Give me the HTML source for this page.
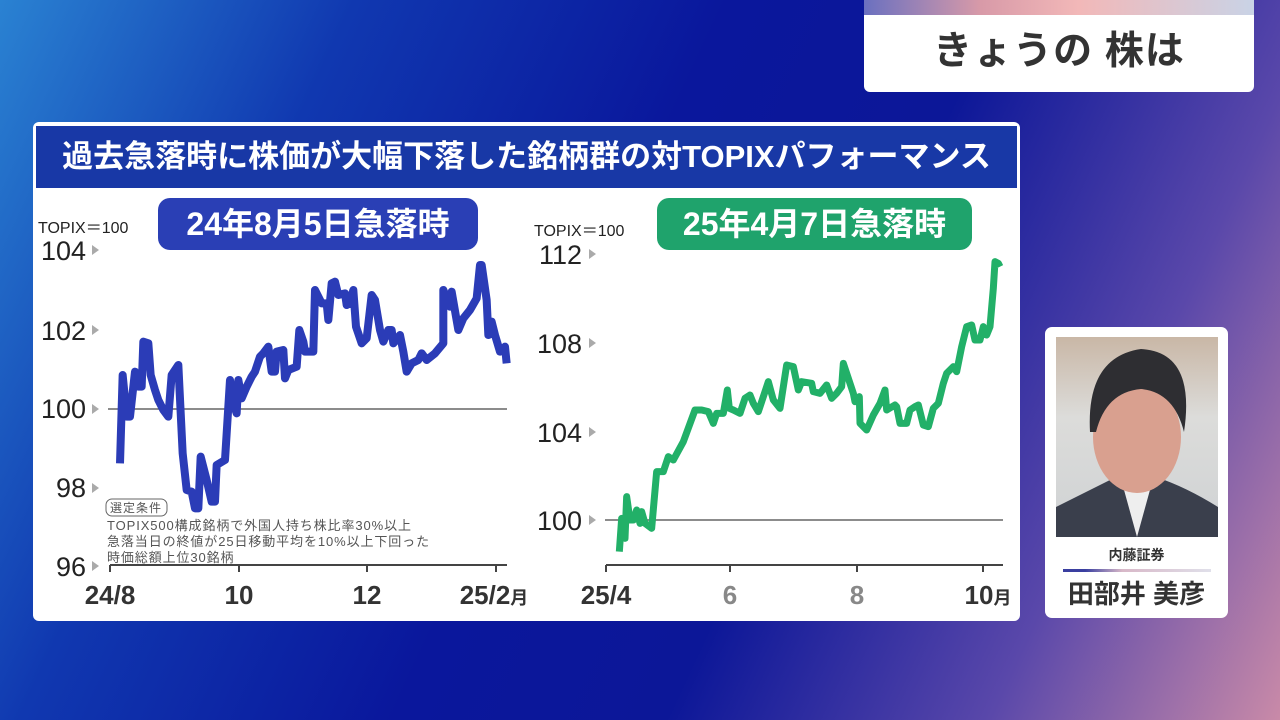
<!DOCTYPE html>
<html><head><meta charset="utf-8"><style>
*{margin:0;padding:0;box-sizing:border-box}
body{width:1280px;height:720px;overflow:hidden;position:relative;font-family:"Liberation Sans","Noto Sans CJK JP",sans-serif;
background:linear-gradient(115deg,#2a82d2 0%,#1038b0 22%,#0a179c 45%,#0c1798 62%,#5a48aa 82%,#c98aa8 100%)}
.abs{position:absolute}
</style></head><body>
<div class="abs" style="left:864px;top:0;width:390px;height:92px;background:#fff;border-radius:0 0 6px 6px;overflow:hidden">
 <div style="height:15px;background:linear-gradient(90deg,#6a70c0,#d89aa8 30%,#f2b8b8 55%,#c9d3e6 100%)"></div>
 <div style="text-align:center;font-size:39px;font-weight:bold;color:#333;line-height:74px;letter-spacing:1px">きょうの 株は</div>
</div>

<div class="abs" style="left:33px;top:122px;width:987px;height:499px;background:#fff;border-radius:6px"></div>
<div class="abs" style="left:36px;top:126px;width:981px;height:62px;background:#1838a6;color:#fff;font-size:31px;font-weight:bold;text-align:center;line-height:62px">過去急落時に株価が大幅下落した銘柄群の対TOPIXパフォーマンス</div>

<div class="abs" style="left:38px;top:214px;font-size:16px;color:#222">TOPIX＝100</div>
<div class="abs" style="left:158px;top:198px;width:320px;height:52px;background:#2a3fb5;border-radius:12px;color:#fff;font-size:32px;font-weight:bold;text-align:center;line-height:52px">24年8月5日急落時</div>
<div class="abs" style="left:534px;top:217px;font-size:16px;color:#222">TOPIX＝100</div>
<div class="abs" style="left:657px;top:198px;width:315px;height:52px;background:#1fa36c;border-radius:12px;color:#fff;font-size:32px;font-weight:bold;text-align:center;line-height:52px">25年4月7日急落時</div>

<svg class="abs" style="left:0;top:0" width="1280" height="720">
 <g font-family="Liberation Sans, Noto Sans CJK JP, sans-serif" font-size="27" fill="#222" text-anchor="end">
  <text x="86" y="260">104</text><text x="86" y="340">102</text><text x="86" y="418">100</text><text x="86" y="497">98</text><text x="86" y="576">96</text>
  <text x="582" y="264">112</text><text x="582" y="353">108</text><text x="582" y="442">104</text><text x="582" y="530">100</text>
 </g>
 <g fill="#aaa">
  <path d="M92,245 l7,5 l-7,5z"/><path d="M92,325 l7,5 l-7,5z"/><path d="M92,404 l7,5 l-7,5z"/><path d="M92,483 l7,5 l-7,5z"/><path d="M92,561 l7,5 l-7,5z"/>
  <path d="M589,249 l7,5 l-7,5z"/><path d="M589,338 l7,5 l-7,5z"/><path d="M589,427 l7,5 l-7,5z"/><path d="M589,515 l7,5 l-7,5z"/>
 </g>
 <g stroke="#666" stroke-width="1.5">
  <line x1="108" y1="409" x2="507" y2="409"/><line x1="605" y1="520" x2="1003" y2="520"/>
 </g>
 <g stroke="#444" stroke-width="2" fill="none">
  <path d="M110,565 H507 M110,565 v7 M239,565 v7 M367,565 v7 M496,565 v7"/>
  <path d="M606,565 H1003 M606,565 v7 M730,565 v7 M857,565 v7 M983,565 v7"/>
 </g>
 <g font-family="Liberation Sans, Noto Sans CJK JP, sans-serif" font-size="26" font-weight="bold" text-anchor="middle" fill="#333">
  <text x="110" y="604">24/8</text><text x="239" y="604">10</text><text x="367" y="604">12</text><text x="494" y="604">25/2<tspan font-size="18">月</tspan></text>
  <text x="606" y="604">25/4</text><text x="730" y="604" fill="#888">6</text><text x="857" y="604" fill="#888">8</text><text x="988" y="604">10<tspan font-size="18">月</tspan></text>
 </g>
 <g transform="translate(30,190) scale(0.33333)" fill="none" stroke="#2b3cb7" stroke-width="24" stroke-linejoin="round">
  <polyline points="270,820 278,555 290,680 300,680 315,545 325,590 335,590 340,455 355,460 362,555 375,600 385,630 400,660 415,680 425,555 445,525 458,790 470,900 485,905 495,955 505,955 512,800 530,870 545,935 555,935 560,825 585,810 600,570 610,640 620,670 625,570 635,625 650,590 665,560 675,545 690,500 700,490 715,470 725,545 735,545 740,485 760,480 765,565 775,540 800,530 808,420 820,455 825,485 850,485 855,300 875,340 890,340 895,390 905,280 915,275 925,315 945,310 950,345 960,340 970,300 978,410 995,460 1010,445 1025,315 1035,330 1050,420 1060,455 1075,420 1085,420 1090,460 1110,435 1120,485 1130,545 1145,520 1165,510 1175,490 1190,510 1215,490 1240,460 1240,300 1260,350 1265,305 1285,420 1300,385 1320,360 1340,325 1350,225 1355,225 1370,330 1375,435 1385,395 1395,435 1410,485 1425,470 1430,520"/>
 </g>
 <g transform="translate(520,190) scale(0.33333)" fill="none" stroke="#22b068" stroke-width="21" stroke-linejoin="round">
  <polyline points="298,1085 305,985 315,1045 320,920 330,990 340,990 350,960 360,1000 365,965 375,1000 395,1015 410,845 430,845 445,800 460,810 490,755 525,660 545,660 565,665 580,700 590,670 610,670 622,600 628,655 640,660 660,670 675,625 690,615 700,640 715,665 745,575 760,630 780,655 800,525 820,530 835,600 845,575 875,580 880,605 900,610 920,585 935,625 950,610 965,590 970,520 990,580 1000,610 1005,635 1018,620 1020,700 1040,720 1060,675 1080,640 1095,600 1100,660 1125,645 1130,650 1140,700 1160,700 1170,660 1185,650 1195,645 1210,705 1225,710 1240,655 1255,640 1270,580 1280,550 1300,530 1310,545 1325,470 1340,410 1355,405 1365,450 1380,450 1390,410 1400,435 1410,410 1420,295 1425,215 1435,220 1440,230"/>
 </g>
 <rect x="106" y="499" width="61" height="17" rx="6" fill="#fff" stroke="#666" stroke-width="1"/>
 <g font-family="Liberation Sans, Noto Sans CJK JP, sans-serif" font-size="13" fill="#555" letter-spacing="0.9">
  <text x="110" y="512" font-size="12" letter-spacing="1">選定条件</text>
  <text x="107" y="530">TOPIX500構成銘柄で外国人持ち株比率30%以上</text>
  <text x="107" y="546">急落当日の終値が25日移動平均を10%以上下回った</text>
  <text x="107" y="562">時価総額上位30銘柄</text>
 </g>
</svg>

<div class="abs" style="left:1045px;top:327px;width:183px;height:291px;background:#fff;border-radius:7px"></div>
<svg class="abs" style="left:1056px;top:337px" width="162" height="200">
 <defs><linearGradient id="bg" x1="0" y1="0" x2="0" y2="1"><stop offset="0" stop-color="#c9b7a6"/><stop offset="0.4" stop-color="#dcdcda"/><stop offset="1" stop-color="#cfd2d4"/></linearGradient></defs>
 <rect width="162" height="200" fill="url(#bg)"/>
 <path d="M0,200 L0,170 Q40,150 60,140 L100,140 Q130,150 162,170 L162,200z" fill="#3a3f4c"/>
 <path d="M65,142 L81,200 L97,142z" fill="#eee"/>
 <ellipse cx="81" cy="100" rx="44" ry="56" fill="#d9a08f"/>
 <path d="M34,95 Q30,20 85,12 Q140,15 128,95 Q118,55 85,52 Q50,55 40,95z" fill="#2e2e32"/>
</svg>
<div class="abs" style="left:1045px;top:545px;width:183px;text-align:center;font-size:14px;font-weight:bold;color:#333">内藤証券</div>
<div class="abs" style="left:1063px;top:569px;width:148px;height:3px;background:linear-gradient(90deg,#3a3fa0 15%,#d8b8c8 40%,#e0e0ea)"></div>
<div class="abs" style="left:1045px;top:574px;width:183px;text-align:center;font-size:26px;font-weight:bold;color:#333">田部井 美彦</div>
</body></html>
